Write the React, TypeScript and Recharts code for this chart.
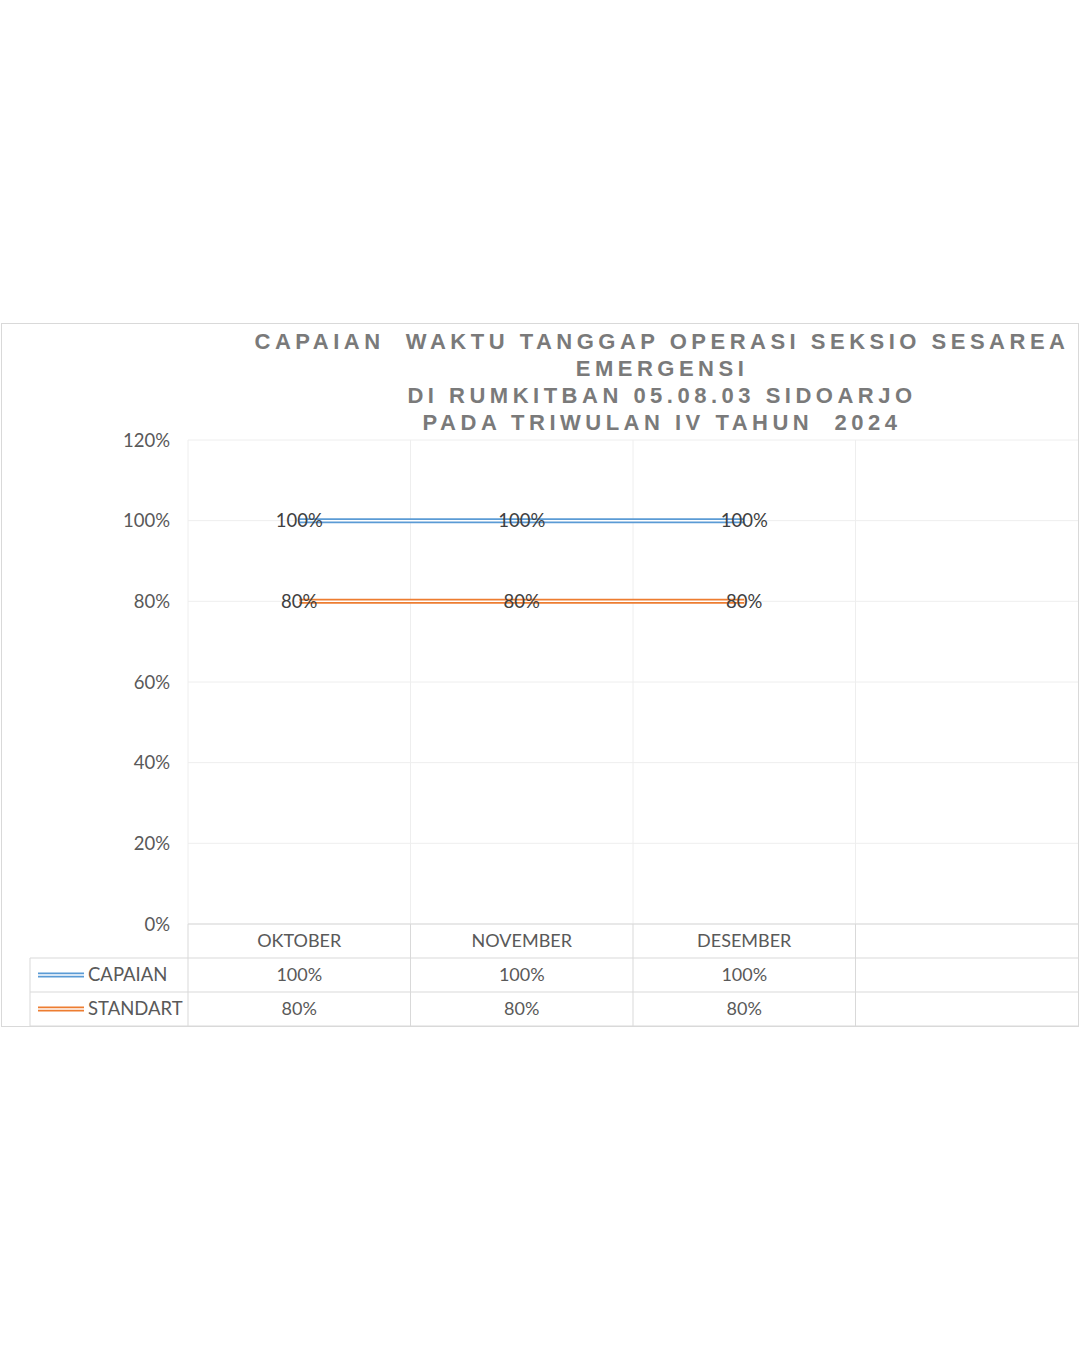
import React from "react"
import {
  LineChart, Line, XAxis, YAxis, CartesianGrid, LabelList,
} from "recharts"

/* data */
const CATEGORIES = ["OKTOBER", "NOVEMBER", "DESEMBER", ""]
const CAPAIAN:  (number | null)[] = [1, 1, 1, null]
const STANDART: (number | null)[] = [0.8, 0.8, 0.8, null]
const Y_TICKS = [0, 0.2, 0.4, 0.6, 0.8, 1.0, 1.2]

const TITLE_LINES = [
  "CAPAIAN  WAKTU TANGGAP OPERASI SEKSIO SESAREA",
  "EMERGENSI",
  "DI RUMKITBAN 05.08.03 SIDOARJO",
  "PADA TRIWULAN IV TAHUN  2024",
]

const SERIES = [
  { key: "capaian",  name: "CAPAIAN",  color: "#5B9BD5", values: CAPAIAN },
  { key: "standart", name: "STANDART", color: "#ED7D31", values: STANDART },
]

const chartData = CATEGORIES.map((month, i) => ({
  month,
  capaian: CAPAIAN[i],
  standart: STANDART[i],
}))

const pct = (v: number | null | undefined) =>
  v == null ? "" : `${Math.round(v * 100)}%`

// layout
const W = 1080
const H = 1350
const MARGIN = { top: 440, right: 2, bottom: 324, left: 128 }
const Y_AXIS_W = 60
const TABLE_ROW = 34
const PLOT_W = W - MARGIN.left - Y_AXIS_W - MARGIN.right
const BAND = PLOT_W / CATEGORIES.length

const TEXT = "#595959"
const TABLE_LINE = "#d9d9d9"
const GRID = "#eeeeee"

// x axis tick = one column of the data table under the plot
function TableTick(props: any) {
  const { x, y, payload, index } = props
  const left = x - BAND / 2
  const right = left + BAND * (CATEGORIES.length - index)
  const legendLeft = 30
  return (
    <g>
      {index === 0 && (
        <g>
          <line x1={left} x2={right} y1={y} y2={y} stroke={TABLE_LINE} />
          {[1, 2, 3].map(r => (
            <line key={r} x1={legendLeft} x2={right} y1={y + r * TABLE_ROW} y2={y + r * TABLE_ROW} stroke={TABLE_LINE} />
          ))}
          <line x1={legendLeft} x2={legendLeft} y1={y + TABLE_ROW} y2={y + 3 * TABLE_ROW} stroke={TABLE_LINE} />
          {SERIES.map((s, r) => {
            const cy = y + (r + 1.5) * TABLE_ROW
            return (
              <g key={s.key}>
                <line x1={38} x2={84} y1={cy} y2={cy} stroke={s.color} strokeWidth={5} />
                <line x1={38} x2={84} y1={cy} y2={cy} stroke="#fff" strokeWidth={1.5} />
                <text x={88} y={cy} dy="0.35em" fill={TEXT} fontSize={18.5}>{s.name}</text>
              </g>
            )
          })}
        </g>
      )}
      <line x1={left} x2={left} y1={y} y2={y + 3 * TABLE_ROW} stroke={TABLE_LINE} />
      <text x={x} y={y + TABLE_ROW / 2} dy="0.35em" textAnchor="middle" fill={TEXT} fontSize={18}>
        {payload.value}
      </text>
      {SERIES.map((s, r) => (
        <text key={s.key} x={x} y={y + (r + 1.5) * TABLE_ROW} dy="0.35em" textAnchor="middle" fill={TEXT} fontSize={18}>
          {pct(s.values[index])}
        </text>
      ))}
    </g>
  )
}

export default function App() {
  return (
    <div style={{ position: "absolute", left: 0, top: 0, width: W, height: H, background: "#fff", fontFamily: "Lato, sans-serif" }}>
      {/* chart area border */}
      <div style={{
        position: "absolute", left: 1, top: 323, width: 1076, height: 702,
        border: `1px solid ${TABLE_LINE}`,
      }} />

      <div style={{
        position: "absolute", left: 210, top: 328, width: 904,
        textAlign: "center", color: "#7a7a7a",
        fontFamily: "'Liberation Sans', Arial, sans-serif", fontWeight: 700,
        fontSize: 22, letterSpacing: 4.5, lineHeight: "27px", whiteSpace: "pre",
      }}>
        {TITLE_LINES.map(t => <div key={t}>{t}</div>)}
      </div>

      <div style={{ position: "absolute", left: 0, top: 0 }}>
        <LineChart width={W} height={H} data={chartData} margin={MARGIN}>
          <CartesianGrid
            stroke={GRID}
            horizontalValues={Y_TICKS}
            verticalCoordinatesGenerator={({ offset }: any) =>
              CATEGORIES.map((_, i) => offset.left + (i * offset.width) / CATEGORIES.length)
            }
          />
          <XAxis
            dataKey="month"
            scale="band"
            interval={0}
            axisLine={false}
            tickLine={false}
            tickSize={0}
            tickMargin={0}
            height={TABLE_ROW * 3}
            tick={<TableTick />}
          />
          <YAxis
            width={Y_AXIS_W}
            domain={[0, 1.2]}
            ticks={Y_TICKS}
            tickFormatter={pct}
            axisLine={false}
            tickLine={false}
            tickSize={0}
            tickMargin={18}
            tick={{ fill: TEXT, fontSize: 18.5 }}
          />
          {SERIES.map(s => (
            <Line key={s.key} dataKey={s.key} stroke={s.color} strokeWidth={5}
              dot={false} isAnimationActive={false} />
          ))}
          {SERIES.map(s => (
            <Line key={s.key + "-inner"} dataKey={s.key} stroke="#fff" strokeWidth={1.5}
              dot={false} isAnimationActive={false} legendType="none">
              <LabelList dataKey={s.key} position="center" formatter={pct}
                fill="#404040" fontSize={18.5} />
            </Line>
          ))}
        </LineChart>
      </div>
    </div>
  )
}
